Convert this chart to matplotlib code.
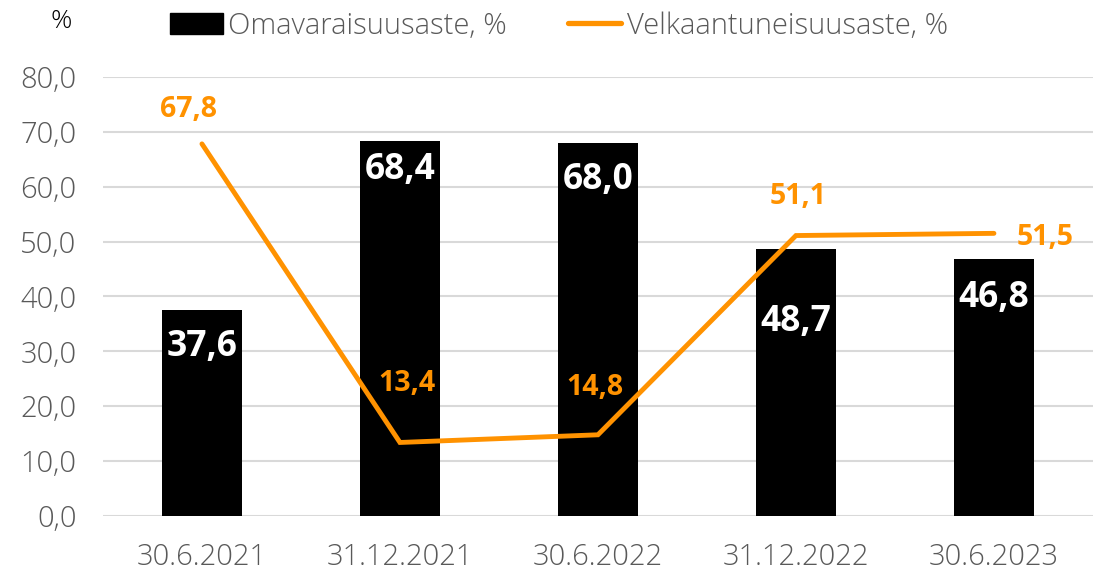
import matplotlib
matplotlib.use("Agg")
import matplotlib.pyplot as plt
from matplotlib.patches import Patch
from matplotlib.lines import Line2D

categories = ["30.6.2021", "31.12.2021", "30.6.2022", "31.12.2022", "30.6.2023"]
omavaraisuus = [37.6, 68.4, 68.0, 48.7, 46.8]
velkaantuneisuus = [67.8, 13.4, 14.8, 51.1, 51.5]
yticks = [0, 10, 20, 30, 40, 50, 60, 70, 80]

# label placement (styling): offsets in data units / x offsets in category units
bar_label_y = [30.8, 63.0, 61.2, 35.3, 39.7]
line_label_dy = [6.2, 10.8, 8.7, 7.2, -0.7]
line_label_dx = [-0.066, 0.035, -0.015, 0.01, 0.26]

FONT = "Open Sans"
GRAY = "#595959"
ORANGE = "#FF9200"

fig = plt.figure(figsize=(11.07, 5.74), dpi=100)
ax = fig.add_axes([0.0930, 0.101, 0.8943, 0.765])

x = list(range(len(categories)))
ax.bar(x, omavaraisuus, width=0.404, color="black", zorder=2)
ax.plot(x, velkaantuneisuus, color=ORANGE, lw=3.5, solid_capstyle="round",
        solid_joinstyle="miter", zorder=3)

for i, v in enumerate(omavaraisuus):
    ax.text(i, bar_label_y[i], f"{v:.1f}".replace(".", ","), color="white",
            ha="center", va="center", fontsize=25.5, fontweight="bold",
            family=FONT, zorder=4)
for i, v in enumerate(velkaantuneisuus):
    ax.text(i + line_label_dx[i], v + line_label_dy[i], f"{v:.1f}".replace(".", ","),
            color=ORANGE, ha="center", va="center", fontsize=20.5, fontweight="bold",
            family=FONT, zorder=4)

ax.set_xlim(-0.5, 4.5)
ax.set_ylim(0, 80)
ax.set_yticks(yticks)
ax.set_yticklabels([f"{t:.1f}".replace(".", ",") for t in yticks])
ax.set_xticks(x)
ax.set_xticklabels(categories)
for lab in ax.get_xticklabels() + ax.get_yticklabels():
    lab.set_family(FONT)
    lab.set_fontweight("light")
    lab.set_color(GRAY)
    lab.set_fontsize(21)
ax.tick_params(axis="both", length=0)
ax.tick_params(axis="x", pad=19)
ax.tick_params(axis="y", pad=19)
ax.grid(axis="y", color="#D9D9D9", lw=1.5, zorder=0)
ax.set_axisbelow(True)
for s in ax.spines.values():
    s.set_visible(False)

fig.text(0.055, 0.963, "%", ha="center", va="center", fontsize=19, family=FONT,
         fontweight="light", color="black")

handles = [Patch(facecolor="black", edgecolor="black"),
           Line2D([0], [0], color=ORANGE, lw=3.8, solid_capstyle="round")]
leg = fig.legend(handles, ["Omavaraisuusaste, %", "Velkaantuneisuusaste, %"],
                 loc="center", bbox_to_anchor=(0.505, 0.955), ncol=2, frameon=False,
                 prop={"family": FONT, "weight": "light", "size": 21},
                 handlelength=1.8, handleheight=0.75, handletextpad=0.2,
                 columnspacing=2.1)
for t in leg.get_texts():
    t.set_color(GRAY)

fig.savefig("out.png", dpi=100)
